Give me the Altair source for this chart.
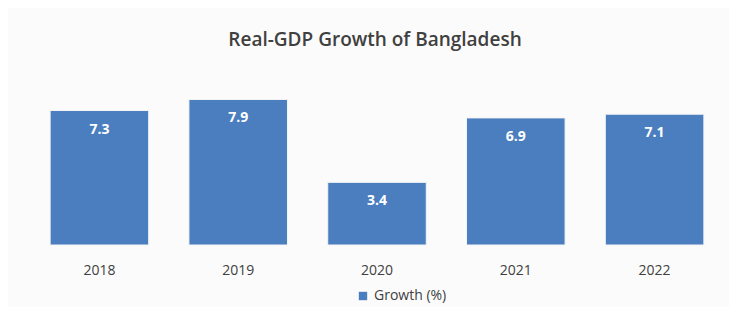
import altair as alt
import pandas as pd

years = ["2018", "2019", "2020", "2021", "2022"]
growth = [7.3, 7.9, 3.4, 6.9, 7.1]
series = ["Growth (%)"] * len(years)

df = pd.DataFrame({"year": years, "growth": growth, "series": series})

FONT = "Open Sans"
TXT = "#404040"

base = alt.Chart(df).encode(
    x=alt.X("year:N", title=None, sort=years,
            scale=alt.Scale(paddingInner=0.29, paddingOuter=0.145),
            axis=alt.Axis(domain=False, ticks=False, labelPadding=18, labelAngle=0,
                          labelFontSize=14, labelColor=TXT, labelFont=FONT,
                          labelFontWeight="normal", grid=False)),
    y=alt.Y("growth:Q", title=None, scale=alt.Scale(domain=[0, 9.5], nice=False),
            axis=None),
)

bars = base.mark_bar(stroke="#f4f4f4", strokeWidth=1).encode(
    color=alt.Color("series:N", title=None,
                    scale=alt.Scale(range=["#4a7ebf"]),
                    legend=alt.Legend(orient="none", legendX=326, legendY=219,
                                      symbolType="square", symbolSize=70,
                                      symbolStrokeWidth=0,
                                      labelFontSize=14, labelColor=TXT,
                                      labelFont=FONT, labelFontWeight="normal"))
)

labels = base.mark_text(color="white", fontSize=14, fontWeight="bold", font=FONT,
                        baseline="middle", dy=19).encode(
    text=alt.Text("growth:Q", format=".1f")
)

title = alt.Chart(pd.DataFrame({"t": ["Real-GDP Growth of Bangladesh"]})).mark_text(
    fontSize=19, fontWeight=600, font=FONT, color=TXT, baseline="middle"
).encode(text="t:N", x=alt.value(345), y=alt.value(-30))

chart = alt.layer(bars, labels, title).properties(
    width=694, height=175,
    background="#fbfbfb",
    padding={"left": 22, "top": 62, "right": 5, "bottom": 62},
    autosize=alt.AutoSizeParams(type="none"),
).configure_view(stroke=None)

chart.save("out.html", embed_options={"renderer": "svg", "actions": False})
